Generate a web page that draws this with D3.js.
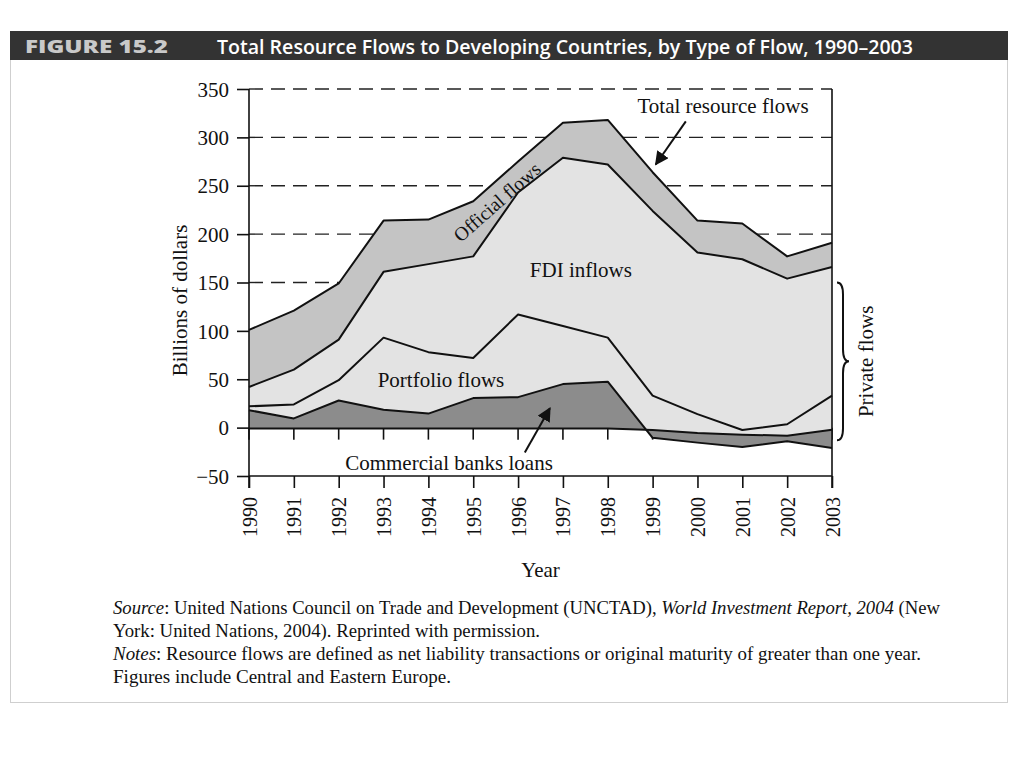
<!DOCTYPE html>
<html>
<head>
<meta charset="utf-8">
<script src="https://cdn.jsdelivr.net/npm/d3@7"></script>
<style>
  html, body { margin: 0; padding: 0; background: #fff; }
  svg { display: block; }
  .serif { font-family: "Liberation Serif", "Times New Roman", serif; fill: #111; }
</style>
</head>
<body>
<svg id="chart" width="1024" height="768"></svg>
<script>
// ---------- data (billions of dollars) ----------
const years = [1990, 1991, 1992, 1993, 1994, 1995, 1996, 1997, 1998, 1999, 2000, 2001, 2002, 2003];
// cumulative boundaries of the stacked flows
const totalResourceFlows = [101, 121, 149, 214, 215, 234, 275, 315, 318, 264, 214, 211, 177, 191];
const privateFlowsTop    = [42, 60, 91, 161, 169, 177, 243, 279, 272, 224, 181, 174, 154, 166]; // top of FDI inflows
const portfolioFlowsTop  = [22, 24, 49, 93, 78, 72, 117, 105, 93, 33, 14, -2.5, 3.5, 33];
const bankLoansEdge      = [18, 9.5, 28, 18.5, 14.5, 30.5, 31.5, 45, 47.5, -10.5, -15.5, -20, -14, -21];
const bankLoansBase      = [-1, -1, -1, -1, -1, -1, -1, -1, -1, -2.5, -5.5, -7.3, -8.3, -2.2];
const yTickValues = [350, 300, 250, 200, 150, 100, 50, 0, -50];
const gridValues  = [350, 300, 250, 200, 150];
const yDomain = [-50, 350];

const rows = years.map((y, i) => ({
  year: y, total: totalResourceFlows[i], priv: privateFlowsTop[i],
  port: portfolioFlowsTop[i], bank: bankLoansEdge[i], base: bankLoansBase[i]
}));

const svg = d3.select("#chart");
const x = d3.scaleLinear().domain([years[0], years[years.length - 1]]).range([249, 832]);
const y = d3.scaleLinear().domain(yDomain).range([476, 89]);

// ---------- frame & header ----------
svg.append("rect").attr("x", 10.5).attr("y", 31.5).attr("width", 997).attr("height", 671)
  .attr("fill", "none").attr("stroke", "#cfcfcf").attr("stroke-width", 1);
svg.append("rect").attr("x", 10).attr("y", 31).attr("width", 998).attr("height", 29).attr("fill", "#333");
svg.append("text").attr("x", 25).attr("y", 53)
  .attr("font-family", "'Open Sans', 'DejaVu Sans', sans-serif").attr("font-weight", 800)
  .attr("font-size", 17).attr("fill", "#c9c9c9")
  .attr("textLength", 143).attr("lengthAdjust", "spacingAndGlyphs").text("FIGURE 15.2");
svg.append("text").attr("x", 217).attr("y", 54)
  .attr("font-family", "'Open Sans', 'DejaVu Sans', sans-serif").attr("font-weight", 600)
  .attr("font-size", 20).attr("fill", "#fff")
  .attr("textLength", 696).attr("lengthAdjust", "spacingAndGlyphs")
  .text("Total Resource Flows to Developing Countries, by Type of Flow, 1990–2003");

// ---------- grid lines ----------
svg.append("g").selectAll("line").data(gridValues).join("line")
  .attr("x1", x(years[0])).attr("x2", x(years[years.length - 1]))
  .attr("y1", d => y(d)).attr("y2", d => y(d))
  .attr("stroke", "#222").attr("stroke-width", 1.4).attr("stroke-dasharray", "14,8");

// ticks hanging under the zero line
svg.append("g").selectAll("line").data(years).join("line")
  .attr("x1", d => x(d)).attr("x2", d => x(d))
  .attr("y1", y(0)).attr("y2", y(0) + 12)
  .attr("stroke", "#111").attr("stroke-width", 1.6);

// ---------- areas ----------
const areaBetween = (lo, hi) => d3.area().x(d => x(d.year)).y0(d => y(d[lo])).y1(d => y(d[hi]));
svg.append("path").datum(rows).attr("d", areaBetween("base", "total")).attr("fill", "#c4c4c4");
svg.append("path").datum(rows).attr("d", areaBetween("base", "priv")).attr("fill", "#e3e3e3");
svg.append("path").datum(rows).attr("d", areaBetween("base", "bank")).attr("fill", "#8c8c8c");

// ---------- boundary lines ----------
["total", "priv", "port", "bank", "base"].forEach(k => {
  svg.append("path").datum(rows)
    .attr("d", d3.line().x(d => x(d.year)).y(d => y(d[k])))
    .attr("fill", "none").attr("stroke", "#111").attr("stroke-width", 2).attr("stroke-linejoin", "round");
});

// ---------- axes ----------
const yAxis = d3.axisLeft(y).tickValues(yTickValues).tickSize(12).tickFormat(d => d < 0 ? "\u2212" + Math.abs(d) : d);
const gy = svg.append("g").attr("transform", `translate(${x(years[0])},0)`).call(yAxis);
gy.select(".domain").remove();
gy.selectAll(".tick line").attr("stroke", "#111").attr("stroke-width", 1.6);
gy.selectAll(".tick text").attr("class", "serif").attr("font-size", 21).attr("x", -20).attr("dy", "0.34em");

const xAxis = d3.axisBottom(x).tickValues(years).tickSize(12).tickFormat(d3.format("d"));
const gx = svg.append("g").attr("transform", `translate(0,${y(-50)})`).call(xAxis);
gx.select(".domain").remove();
gx.selectAll(".tick line").attr("stroke", "#111").attr("stroke-width", 1.6);
gx.selectAll(".tick text").attr("class", "serif").attr("font-size", 20)
  .attr("text-anchor", "end").attr("transform", "rotate(-90)")
  .attr("x", -21).attr("y", 0).attr("dy", "0.35em");

// axis lines
svg.append("line").attr("x1", x(years[0])).attr("x2", x(years[years.length - 1]))
  .attr("y1", y(-50)).attr("y2", y(-50)).attr("stroke", "#111").attr("stroke-width", 1.6);
[years[0], years[years.length - 1]].forEach(v => {
  svg.append("line").attr("x1", x(v)).attr("x2", x(v)).attr("y1", y(350)).attr("y2", y(-50) + 12)
    .attr("stroke", "#111").attr("stroke-width", 1.6);
});

// axis titles
svg.append("text").attr("class", "serif").attr("font-size", 21).attr("text-anchor", "middle")
  .attr("transform", `translate(187,${(y(100) + y(200)) / 2 + 18}) rotate(-90)`).text("Billions of dollars");
svg.append("text").attr("class", "serif").attr("font-size", 21).attr("text-anchor", "middle")
  .attr("x", (x(years[0]) + x(years[years.length - 1])) / 2).attr("y", 577).text("Year");

// ---------- annotations ----------
const defs = svg.append("defs");
defs.append("marker").attr("id", "arrow").attr("viewBox", "0 0 10 10").attr("refX", 9).attr("refY", 5)
  .attr("markerWidth", 7).attr("markerHeight", 7).attr("orient", "auto-start-reverse")
  .append("path").attr("d", "M0,0 L10,5 L0,10 Z").attr("fill", "#111");

const label = (txt, xv, yv, anchor = "middle") =>
  svg.append("text").attr("class", "serif").attr("font-size", 21).attr("text-anchor", anchor)
    .attr("x", x(xv)).attr("y", y(yv)).text(txt);

label("Total resource flows", 2000.57, 325);
label("FDI inflows", 1997.4, 156);
label("Portfolio flows", 1994.28, 42);
label("Commercial banks loans", 1994.46, -43.5);
svg.append("text").attr("class", "serif").attr("font-size", 19.5).attr("text-anchor", "middle")
  .attr("transform", `translate(${x(1995.63)},${y(228)}) rotate(-41.5)`).text("Official flows");

svg.append("line").attr("x1", x(1999.74)).attr("y1", y(316.5)).attr("x2", x(1999.07)).attr("y2", y(272))
  .attr("stroke", "#111").attr("stroke-width", 2).attr("marker-end", "url(#arrow)");
svg.append("line").attr("x1", x(1996.15)).attr("y1", y(-25.6)).attr("x2", x(1996.71)).attr("y2", y(20))
  .attr("stroke", "#111").attr("stroke-width", 2).attr("marker-end", "url(#arrow)");

// brace for private flows
const bx = x(years[years.length - 1]) + 5, by1 = y(150), by2 = y(-13), bm = (by1 + by2) / 2, bw = 12, br = 12;
svg.append("path")
  .attr("d", `M${bx},${by1} Q${bx + bw / 2},${by1} ${bx + bw / 2},${by1 + br} L${bx + bw / 2},${bm - br}
              Q${bx + bw / 2},${bm} ${bx + bw},${bm} Q${bx + bw / 2},${bm} ${bx + bw / 2},${bm + br}
              L${bx + bw / 2},${by2 - br} Q${bx + bw / 2},${by2} ${bx},${by2}`)
  .attr("fill", "none").attr("stroke", "#111").attr("stroke-width", 2);
svg.append("text").attr("class", "serif").attr("font-size", 21).attr("text-anchor", "middle")
  .attr("transform", `translate(${bx + 36},${bm}) rotate(-90)`).text("Private flows");

// ---------- source & notes ----------
const notes = [
  { parts: [["Source", true], [": United Nations Council on Trade and Development (UNCTAD), ", false], ["World Investment Report, 2004", true], [" (New", false]], w: 827 },
  { parts: [["York: United Nations, 2004). Reprinted with permission.", false]], w: 427 },
  { parts: [["Notes", true], [": Resource flows are defined as net liability transactions or original maturity of greater than one year.", false]], w: 808 },
  { parts: [["Figures include Central and Eastern Europe.", false]], w: 338 }
];
notes.forEach((n, i) => {
  const t = svg.append("text").attr("class", "serif").attr("font-size", 18)
    .attr("x", 113).attr("y", 614 + i * 23)
    .attr("textLength", n.w).attr("lengthAdjust", "spacingAndGlyphs");
  n.parts.forEach(p => t.append("tspan").attr("font-style", p[1] ? "italic" : "normal").text(p[0]));
});
</script>
</body>
</html>
